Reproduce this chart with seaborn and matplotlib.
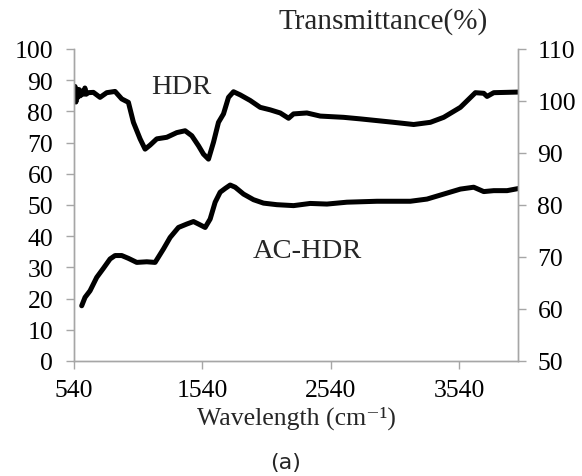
import matplotlib
matplotlib.use("Agg")
import matplotlib.pyplot as plt
import seaborn as sns
import pandas as pd

# ---- data ----
hdr_x = [540, 548, 555, 562, 570, 580, 590, 600, 615, 625, 635, 650, 691, 743, 795, 860, 912, 964,
         1003, 1055, 1094, 1133, 1185, 1263, 1341, 1406, 1458, 1510, 1549, 1588, 1627, 1666,
         1705, 1744, 1783, 1835, 1913, 1991, 2069, 2147, 2212, 2251, 2355, 2459, 2641, 2771,
         3031, 3187, 3317, 3421, 3551, 3668, 3733, 3759, 3811, 4006]
hdr_y = [84.0, 88.0, 83.0, 87.0, 84.5, 87.0, 85.0, 86.5, 85.5, 87.5, 85.5, 86.0, 86.1, 84.5, 86.0, 86.4,
         84.0, 82.9, 76.5, 71.2, 67.9, 69.2, 71.2, 71.7, 73.2, 73.8, 72.2, 69.0, 66.3, 64.7,
         70.1, 76.5, 79.2, 84.5, 86.3, 85.3, 83.5, 81.3, 80.5, 79.5, 77.8, 79.2, 79.5, 78.5,
         78.1, 77.6, 76.5, 75.8, 76.5, 78.1, 81.3, 86.0, 85.8, 84.8, 86.0, 86.2]

ac_x = [600, 626, 665, 717, 769, 821, 860, 912, 964, 1029, 1107, 1172, 1237, 1289, 1354,
        1419, 1471, 1510, 1562, 1601, 1640, 1679, 1718, 1757, 1796, 1861, 1939, 2017, 2121,
        2251, 2381, 2511, 2667, 2901, 3161, 3291, 3421, 3551, 3655, 3733, 3811, 3915, 4006]
ac_y = [17.7, 20.4, 22.5, 26.8, 29.7, 32.7, 33.8, 33.8, 32.9, 31.6, 31.8, 31.6, 35.9, 39.6,
        42.8, 43.9, 44.7, 43.9, 42.8, 45.5, 50.9, 54.1, 55.3, 56.4, 55.7, 53.5, 51.7, 50.6,
        50.1, 49.8, 50.5, 50.3, 50.9, 51.2, 51.2, 51.9, 53.5, 55.1, 55.7, 54.3, 54.6, 54.6, 55.3]

x_ticks = [540, 1540, 2540, 3540]
left_ticks = list(range(0, 101, 10))
right_ticks = list(range(50, 111, 10))

sns.set_style("white")
plt.rcParams["font.family"] = ["Liberation Serif", "DejaVu Serif"]

fig = plt.figure(figsize=(5.82, 4.77), dpi=100)
ax = fig.add_axes([74 / 582, 1 - 362 / 477, (518 - 74) / 582, (362 - 50) / 477])

df_hdr = pd.DataFrame({"x": hdr_x, "y": hdr_y})
df_ac = pd.DataFrame({"x": ac_x, "y": ac_y})
sns.lineplot(data=df_hdr, x="x", y="y", ax=ax, color="black", lw=3.6, sort=False)
sns.lineplot(data=df_ac, x="x", y="y", ax=ax, color="black", lw=3.6, sort=False)

ax.set_xlim(540, 4000)
ax.set_ylim(0, 100)
ax.set_xticks(x_ticks)
ax.set_yticks(left_ticks)
ax.set_xlabel("Wavelength (cm\u207b\u00b9)", fontsize=18.5, labelpad=3)
ax.set_ylabel("")

ax2 = ax.twinx()
ax2.set_ylim(50, 110)
ax2.set_yticks(right_ticks)

grey = "#a6a6a6"
for a in (ax, ax2):
    for s in a.spines.values():
        s.set_color(grey)
        s.set_linewidth(1.0)
    a.spines["top"].set_visible(False)
    a.tick_params(colors=grey, labelcolor="black", labelsize=18.5, length=6, width=1.0,
                  direction="out")
ax.tick_params(axis="y", pad=9, left=True)
ax.tick_params(axis="x", pad=7, bottom=True)
ax2.tick_params(axis="y", pad=8, right=True)

ax.text(1376, 88.1, "HDR", fontsize=20.5, ha="center", va="center")
ax.text(2360, 35.3, "AC-HDR", fontsize=20.5, ha="center", va="center")
fig.text(383 / 582, 1 - 22 / 477, "Transmittance(%)", fontsize=21, ha="center", va="center")
fig.text(286 / 582, 1 - 463 / 477, "(a)", fontsize=16, ha="center", va="center",
         family=["DejaVu Sans"])

fig.savefig("out.png", dpi=100)
